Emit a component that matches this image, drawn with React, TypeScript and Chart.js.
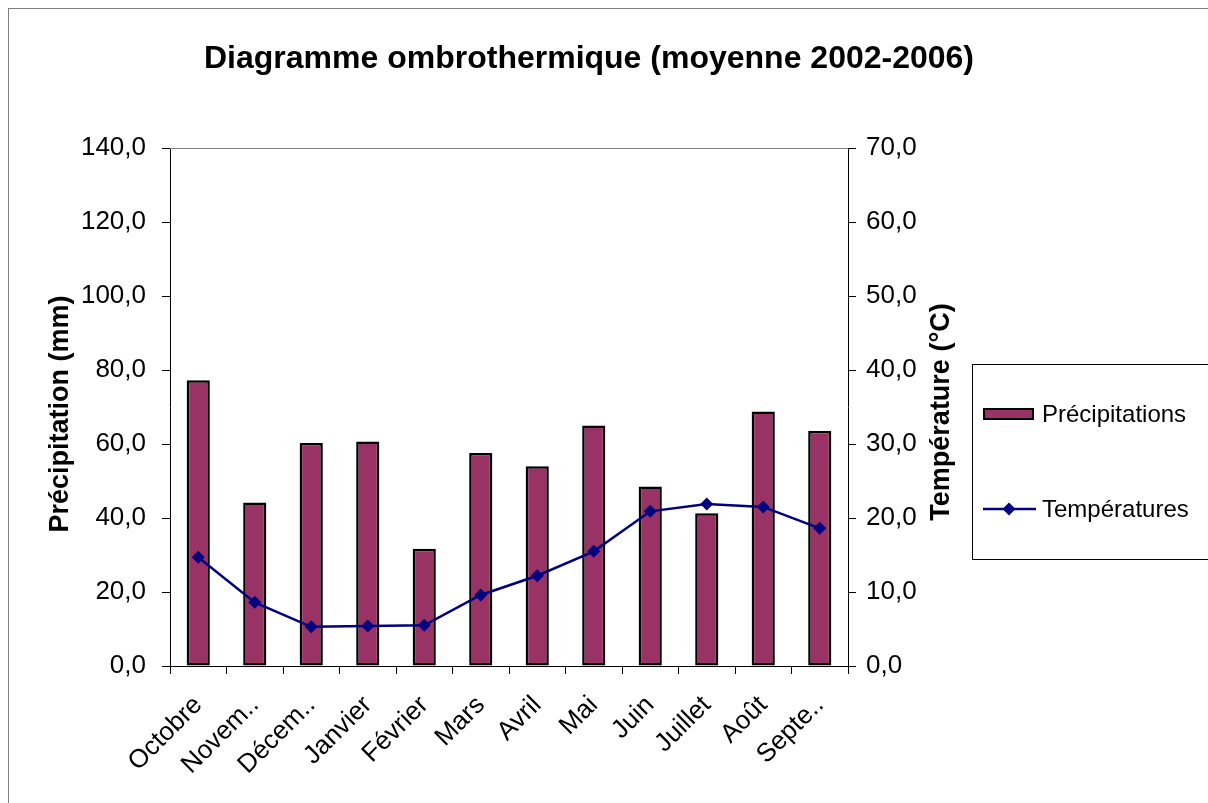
import React, { useEffect, useRef } from 'react';
import { Chart, registerables } from 'chart.js';

Chart.register(...registerables);

const categories = ['Octobre', 'Novem..', 'Décem..', 'Janvier', 'Février', 'Mars', 'Avril', 'Mai', 'Juin', 'Juillet', 'Août', 'Septe..'];
const precipitations = [77.2, 44.2, 60.3, 60.7, 31.7, 57.6, 54.0, 65.0, 48.5, 41.3, 68.8, 63.5];
const temperatures = [14.7, 8.6, 5.3, 5.4, 5.5, 9.6, 12.2, 15.5, 20.9, 21.9, 21.5, 18.6];
const titleText = 'Diagramme ombrothermique (moyenne 2002-2006)';
const leftTitle = 'Précipitation (mm)';
const rightTitle = 'Température (°C)';
const seriesNames = ['Précipitations', 'Températures'];

const FONT = '"Liberation Sans", Arial, sans-serif';
const BAR_COLOR = '#993366';
const LINE_COLOR = '#000080';

const fmt = (v: any) => Number(v).toFixed(1).replace('.', ',');

const decor = {
  id: 'decor',
  afterDraw(chart: any) {
    const ctx = chart.ctx;
    const ca = chart.chartArea;
    ctx.save();
    // plot area top border
    ctx.strokeStyle = '#808080';
    ctx.lineWidth = 1;
    ctx.beginPath();
    ctx.moveTo(ca.left, ca.top + 0.5);
    ctx.lineTo(ca.right, ca.top + 0.5);
    ctx.stroke();

    // title
    ctx.fillStyle = '#000';
    ctx.font = `bold 32px ${FONT}`;
    ctx.textAlign = 'center';
    ctx.textBaseline = 'middle';
    ctx.fillText(titleText, 580, 50);

    // axis titles
    ctx.font = `bold 27px ${FONT}`;
    ctx.save();
    ctx.translate(52, 405);
    ctx.rotate(-Math.PI / 2);
    ctx.fillText(leftTitle, 0, 0);
    ctx.restore();
    ctx.save();
    ctx.translate(933, 403);
    ctx.rotate(-Math.PI / 2);
    ctx.fillText(rightTitle, 0, 0);
    ctx.restore();

    // legend
    ctx.strokeStyle = '#000';
    ctx.lineWidth = 1;
    ctx.strokeRect(963.5, 355.5, 260, 195);
    ctx.fillStyle = BAR_COLOR;
    ctx.fillRect(974, 399, 51, 12);
    ctx.lineWidth = 2;
    ctx.strokeStyle = '#000';
    ctx.strokeRect(975, 400, 49, 10);
    ctx.strokeStyle = LINE_COLOR;
    ctx.lineWidth = 2.5;
    ctx.beginPath();
    ctx.moveTo(974, 500);
    ctx.lineTo(1027, 500);
    ctx.stroke();
    ctx.fillStyle = LINE_COLOR;
    ctx.beginPath();
    ctx.moveTo(1000, 493.5);
    ctx.lineTo(1006.5, 500);
    ctx.lineTo(1000, 506.5);
    ctx.lineTo(993.5, 500);
    ctx.closePath();
    ctx.fill();
    ctx.fillStyle = '#000';
    ctx.font = `24px ${FONT}`;
    ctx.textAlign = 'left';
    ctx.fillText(seriesNames[0], 1033, 406);
    ctx.fillText(seriesNames[1], 1033, 501);
    ctx.restore();
  },
};

export default function App() {
  const ref = useRef<HTMLCanvasElement>(null);
  useEffect(() => {
    if (!ref.current) return;
    const chart = new Chart(ref.current, {
      type: 'bar',
      data: {
        labels: categories,
        datasets: [
          {
            type: 'line',
            label: seriesNames[1],
            data: temperatures,
            yAxisID: 'y1',
            borderColor: LINE_COLOR,
            backgroundColor: LINE_COLOR,
            borderWidth: 2.5,
            pointStyle: 'rectRot',
            pointRadius: 6.5,
            pointBorderWidth: 0,
            pointBackgroundColor: LINE_COLOR,
            tension: 0,
            order: 0,
          } as any,
          {
            type: 'bar',
            label: seriesNames[0],
            data: precipitations,
            yAxisID: 'y',
            backgroundColor: BAR_COLOR,
            borderColor: '#000',
            borderWidth: 2.5,
            borderSkipped: false,
            categoryPercentage: 1,
            barPercentage: 0.41,
            order: 1,
          } as any,
        ],
      },
      options: {
        responsive: false,
        animation: false,
        layout: { padding: { left: 36, right: 281, top: 139, bottom: 0 } },
        plugins: {
          legend: { display: false },
          title: { display: false },
          tooltip: { enabled: false },
        },
        scales: {
          x: {
            offset: true,
            grid: { display: true, drawOnChartArea: false, offset: true, tickLength: 8, color: '#000' },
            border: { color: '#000', width: 1 },
            ticks: {
              color: '#000',
              font: { family: FONT, size: 26 },
              minRotation: 45,
              maxRotation: 45,
              autoSkip: false,
              padding: 16,
            },
            afterFit: (s: any) => { s.height = 137; },
          },
          y: {
            position: 'left',
            min: 0,
            max: 140,
            grid: { drawOnChartArea: false, tickLength: 8, color: '#000' },
            border: { color: '#000', width: 1 },
            ticks: {
              stepSize: 20,
              color: '#000',
              padding: 16,
              font: { family: FONT, size: 26 },
              callback: fmt,
            },
            afterFit: (s: any) => { s.width = 125; },
          },
          y1: {
            position: 'right',
            min: 0,
            max: 70,
            grid: { drawOnChartArea: false, tickLength: 8, color: '#000' },
            border: { color: '#000', width: 1 },
            ticks: {
              stepSize: 10,
              color: '#000',
              padding: 10,
              font: { family: FONT, size: 26 },
              callback: fmt,
            },
            afterFit: (s: any) => { s.width = 80; },
          },
        },
      },
      plugins: [decor],
    });
    return () => chart.destroy();
  }, []);

  return (
    <div style={{ position: 'fixed', inset: 0, overflow: 'hidden', background: '#fff' }}>
      <div style={{ position: 'absolute', left: 8, top: 8, width: 1230, height: 820, border: '1px solid #808080' }}>
        <canvas ref={ref} width={1200} height={794} style={{ display: 'block' }} />
      </div>
    </div>
  );
}
